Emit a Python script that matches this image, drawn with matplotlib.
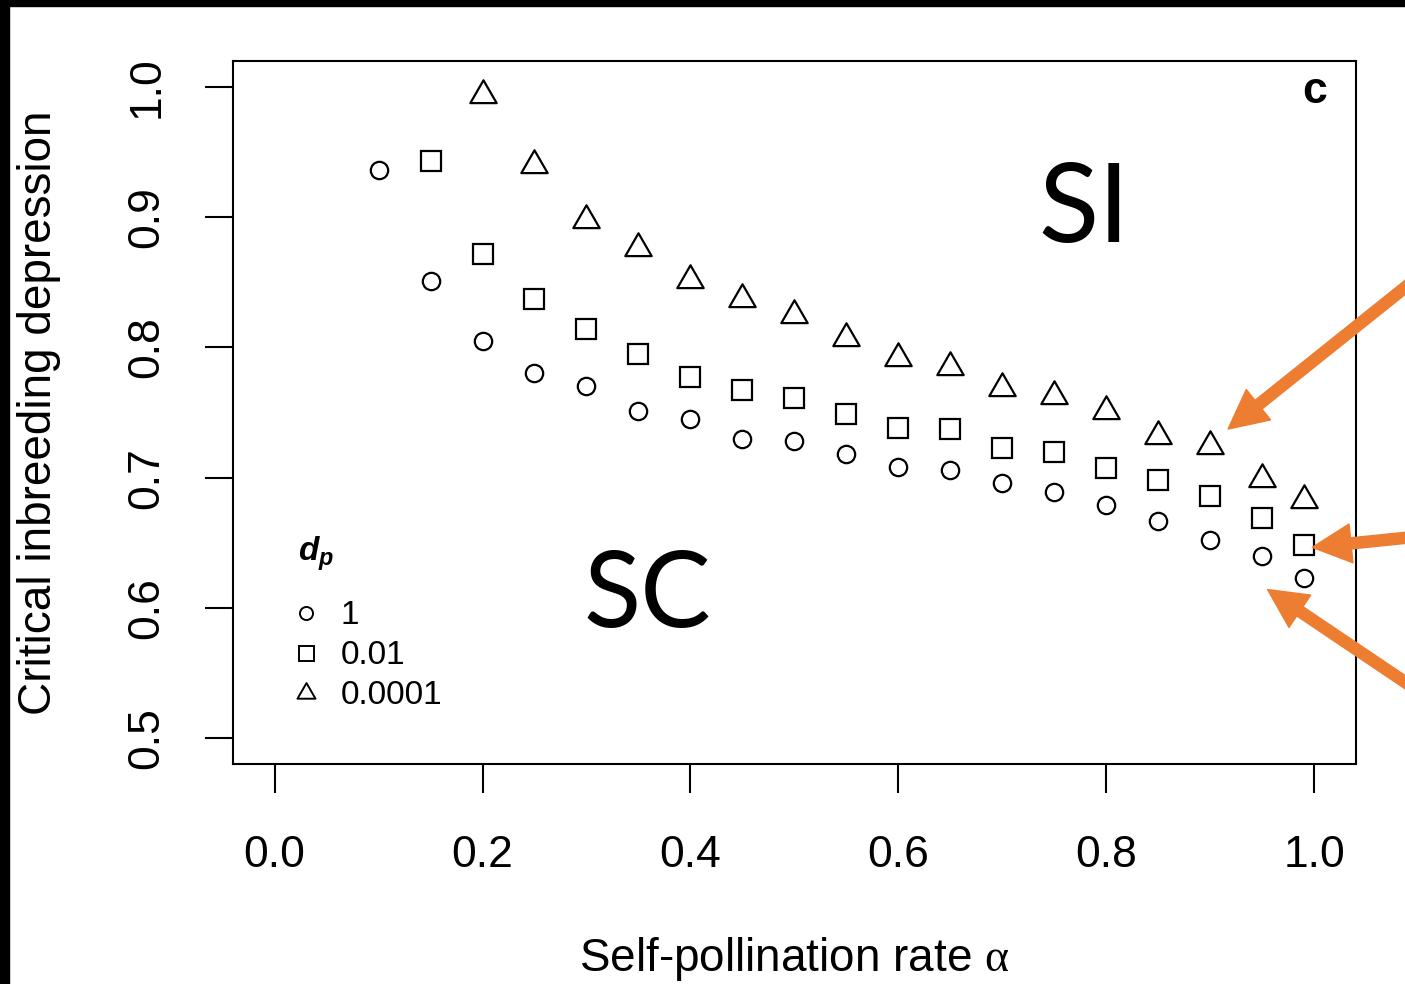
import numpy as np
import matplotlib
matplotlib.use('Agg')
from matplotlib import pyplot as plt
from matplotlib.path import Path
from matplotlib.lines import Line2D
from matplotlib.patches import Rectangle

plt.rcParams['font.family'] = ['Liberation Sans', 'DejaVu Sans']
plt.rcParams['mathtext.fontset'] = 'custom'
plt.rcParams['mathtext.rm'] = 'Liberation Serif'
plt.rcParams['mathtext.bf'] = 'Liberation Sans:bold:italic'

# tasa de autopolinizacion
alfa = [0.10, 0.15, 0.20, 0.25, 0.30, 0.35, 0.40, 0.45, 0.50, 0.55,
        0.60, 0.65, 0.70, 0.75, 0.80, 0.85, 0.90, 0.95, 0.99]

# depresion critica, dp = 1 (circulos)
dp_1 = [0.936, 0.851, 0.805, 0.780, 0.770, 0.751, 0.745, 0.730, 0.728, 0.718,
        0.708, 0.706, 0.696, 0.689, 0.679, 0.667, 0.652, 0.640, 0.623]
# dp = 0.01 (cuadrados), empieza en 0.15
dp_001 = [0.943, 0.872, 0.837, 0.814, 0.795, 0.777, 0.767, 0.761, 0.749,
          0.738, 0.737, 0.723, 0.720, 0.707, 0.698, 0.686, 0.669, 0.648]
# dp = 0.0001 (triangulos), empieza en 0.20
dp_00001 = [0.994, 0.940, 0.898, 0.876, 0.852, 0.837, 0.825, 0.807, 0.792,
            0.785, 0.769, 0.763, 0.751, 0.732, 0.724, 0.699, 0.683]

etiquetas_dp = ['1', '0.01', '0.0001']

# triangulo estilo R (centrado en el centroide)
tri = Path([(0, 1), (0.866, -0.5), (-0.866, -0.5), (0, 1)],
           [Path.MOVETO, Path.LINETO, Path.LINETO, Path.CLOSEPOLY])

fig = plt.figure(figsize=(14.05, 9.84), dpi=100)
ax = fig.add_axes([0.1658, 0.2236, 0.7993, 0.7144])

ax.plot(alfa, dp_1, 'o', ms=12.5, mfc='none', mec='black', mew=1.6, ls='none')
ax.plot(alfa[1:], dp_001, 's', ms=14.6, mfc='none', mec='black', mew=1.6, ls='none')
ax.plot(alfa[2:], dp_00001, marker=tri, ms=21.9, mfc='none', mec='black', mew=1.6, ls='none')

ax.set_xlim(-0.04, 1.04)
ax.set_ylim(0.48, 1.02)
ax.set_xticks([0.0, 0.2, 0.4, 0.6, 0.8, 1.0])
ax.set_xticklabels(['0.0', '0.2', '0.4', '0.6', '0.8', '1.0'])
ax.set_yticks([0.5, 0.6, 0.7, 0.8, 0.9, 1.0])
ax.set_yticklabels(['0.5', '0.6', '0.7', '0.8', '0.9', '1.0'], rotation=90, va='center')
ax.tick_params(axis='x', length=21, width=1.5, pad=30, labelsize=32)
ax.tick_params(axis='y', length=20, width=1.5, pad=27, labelsize=32)
for s in ax.spines.values():
    s.set_linewidth(1.5)

ax.set_xlabel('Self-pollination rate $\\mathrm{\\alpha}$', fontsize=33, va='baseline')
ax.xaxis.set_label_coords(0.5, -0.2945)
ax.set_ylabel('Critical inbreeding depression', fontsize=33, va='baseline')
ax.yaxis.set_label_coords(-0.162, 0.5)

# etiqueta del panel
ax.text(1.0, 0.9407, 'c', transform=ax.get_xaxis_transform(), ha='center',
        va='baseline', fontsize=32, fontweight='bold')

# regiones
ax.text(0.735, 0.8806, 'SI', family=['Lato', 'DejaVu Sans'], fontsize=80, va='baseline')
ax.text(0.297, 0.5855, 'SC', family=['Lato', 'DejaVu Sans'], fontsize=76, va='baseline')

# leyenda
ax.text(0.058, 0.290, '$\\mathbf{d_p}$', transform=ax.transAxes, fontsize=24, va='baseline')
manejadores = [
    Line2D([], [], marker='o', ms=9.4, mfc='none', mec='black', mew=1.4, ls='none'),
    Line2D([], [], marker='s', ms=10.8, mfc='none', mec='black', mew=1.4, ls='none'),
    Line2D([], [], marker=tri, ms=15, mfc='none', mec='black', mew=1.4, ls='none'),
]
ax.legend(manejadores, etiquetas_dp, loc='upper left', bbox_to_anchor=(0.05, 0.233),
          frameon=False, fontsize=24, borderpad=0, borderaxespad=0, handlelength=1.0,
          handletextpad=0.54, labelspacing=0.27)

# flechas naranjas
naranja = '#ED7D31'
estilo = 'simple,head_length=28,head_width=28,tail_width=8'
ax.annotate('', xy=(0.917, 0.7373), xytext=(1.02, 1 - 265 / 984), textcoords='figure fraction',
            arrowprops=dict(arrowstyle=estilo, color=naranja, mutation_scale=1, shrinkA=0, shrinkB=0),
            annotation_clip=False)
ax.annotate('', xy=(0.998, 0.6464), xytext=(1.02, 1 - 535 / 984), textcoords='figure fraction',
            arrowprops=dict(arrowstyle=estilo, color=naranja, mutation_scale=1, shrinkA=0, shrinkB=0),
            annotation_clip=False)
ax.annotate('', xy=(0.955, 0.614), xytext=(1.02, 1 - 701 / 984), textcoords='figure fraction',
            arrowprops=dict(arrowstyle=estilo, color=naranja, mutation_scale=1, shrinkA=0, shrinkB=0),
            annotation_clip=False)

# bordes negros de la captura
fig.add_artist(Rectangle((0, 1 - 6 / 984), 1, 6 / 984, transform=fig.transFigure, color='black'))
fig.add_artist(Rectangle((0, 0), 9 / 1405, 1, transform=fig.transFigure, color='black'))

fig.savefig('out.png', dpi=100)
